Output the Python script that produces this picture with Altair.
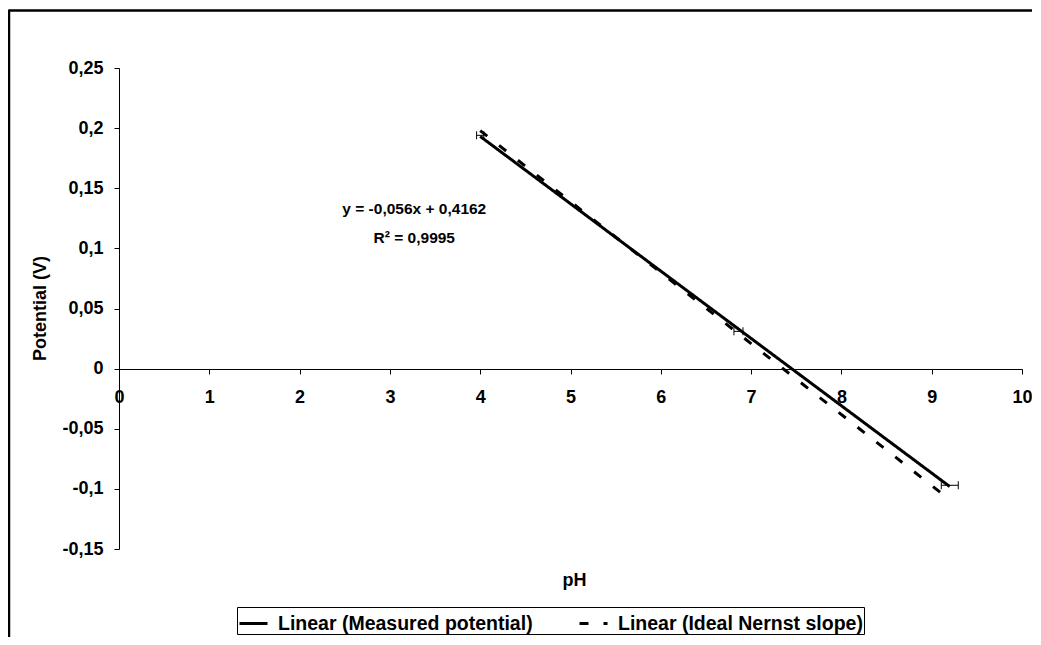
import altair as alt
import pandas as pd

# ---- data ----
ph_measured = [4.0, 6.86, 9.2]
pot_measured = [0.194, 0.031, -0.097]
ph_error = [0.04, 0.05, 0.094]

ph_ideal = [4.0, 6.86, 9.2]
pot_ideal = [0.198, 0.029, -0.109]

series_names = ["Linear (Measured potential)", "Linear (Ideal Nernst slope)"]
x_ticks = [0, 1, 2, 3, 4, 5, 6, 7, 8, 9, 10]
y_ticks = [-0.15, -0.1, -0.05, 0, 0.05, 0.1, 0.15, 0.2, 0.25]
eq_text = ["y = -0,056x + 0,4162", "R\u00b2 = 0,9995"]

FONT = "Liberation Sans"
FS = 18

lines_df = pd.DataFrame({
    "pH": ph_measured + ph_ideal,
    "potential": pot_measured + pot_ideal,
    "series": [series_names[0]] * len(ph_measured) + [series_names[1]] * len(ph_ideal),
})
err_df = pd.DataFrame({"pH": ph_measured, "potential": pot_measured, "err": ph_error})
eq_df = pd.DataFrame({"x": [3.27, 3.27], "y": [0.133, 0.109], "text": eq_text})

xs = alt.Scale(domain=[0, 10], nice=False, zero=False)
ys = alt.Scale(domain=[-0.15, 0.25], nice=False, zero=False)

x_axis = alt.Axis(
    values=x_ticks, format="d", offset=-180, grid=False,
    domainColor="black", domainWidth=1, tickColor="black", tickSize=5,
    labelFont=FONT, labelFontSize=FS, labelFontWeight="bold", labelColor="black",
    labelPadding=14, labelFlush=False, labelOverlap=False,
    title="pH", titleFont=FONT, titleFontSize=FS, titleFontWeight="bold", titleColor="black",
    titleX=455, titleY=211, titleAlign="center", titleBaseline="middle",
)
y_axis = alt.Axis(
    values=y_ticks, grid=False,
    labelExpr="replace(replace(format(datum.value, '.2~f'), '.', ','), '\u2212', '-')",
    domainColor="black", domainWidth=1, tickColor="black", tickSize=5,
    labelFont=FONT, labelFontSize=FS, labelFontWeight="bold", labelColor="black",
    labelPadding=11, labelOverlap=False, labelFlush=False,
    title="Potential (V)", titleFont=FONT, titleFontSize=FS, titleFontWeight="bold",
    titleColor="black", titleX=-79, titleY=240, titleAngle=270,
    titleAlign="center", titleBaseline="middle",
)

lines = alt.Chart(lines_df).transform_regression(
    "pH", "potential", groupby=["series"]
).mark_line(color="black", strokeWidth=3).encode(
    x=alt.X("pH:Q", scale=xs, axis=x_axis),
    y=alt.Y("potential:Q", scale=ys, axis=y_axis),
    strokeDash=alt.StrokeDash(
        "series:N",
        scale=alt.Scale(domain=series_names, range=[[1, 0], [9, 15]]),
        legend=alt.Legend(
            orient="none", legendX=118, legendY=539, direction="horizontal",
            columns=2, title=None, symbolType="stroke", symbolSize=784,
            symbolStrokeWidth=3, symbolStrokeColor="black",
            labelFont=FONT, labelFontSize=19.5, labelFontWeight="bold",
            labelColor="black", labelLimit=0, labelOffset=9,
            strokeColor="black", fillColor="white", padding=1, columnPadding=40,
        ),
    ),
)

err_base = alt.Chart(err_df).transform_calculate(
    lo="datum.pH - datum.err", hi="datum.pH + datum.err"
)
err_rule = err_base.mark_rule(color="black", strokeWidth=1, opacity=1).encode(
    x=alt.X("lo:Q", scale=xs), x2="hi:Q", y=alt.Y("potential:Q", scale=ys)
)
cap_lo = err_base.mark_tick(color="black", orient="vertical", size=8, thickness=1, opacity=1).encode(
    x=alt.X("lo:Q", scale=xs), y=alt.Y("potential:Q", scale=ys)
)
cap_hi = err_base.mark_tick(color="black", orient="vertical", size=8, thickness=1, opacity=1).encode(
    x=alt.X("hi:Q", scale=xs), y=alt.Y("potential:Q", scale=ys)
)

eq = alt.Chart(eq_df).mark_text(
    font=FONT, fontSize=15.5, fontWeight="bold", color="black",
    align="center", baseline="middle",
).encode(x=alt.X("x:Q", scale=xs), y=alt.Y("y:Q", scale=ys), text="text:N")

frame_df = pd.DataFrame({"k": [0]})
frame_top = alt.Chart(frame_df).mark_rule(color="black", strokeWidth=2.5).encode(
    x=alt.value(-110), x2=alt.value(913), y=alt.value(-57.5)
)
frame_left = alt.Chart(frame_df).mark_rule(color="black", strokeWidth=2.5).encode(
    x=alt.value(-110), y=alt.value(-58.5), y2=alt.value(580)
)

chart = alt.layer(lines, err_rule, cap_lo, cap_hi, eq, frame_top, frame_left).properties(
    width=903, height=481,
    padding={"left": 111, "top": 60, "right": 10, "bottom": 88},
    autosize=alt.AutoSizeParams(type="none"),
).configure_view(stroke=None)

chart.save("out.html", embed_options={"renderer": "svg", "actions": False})
